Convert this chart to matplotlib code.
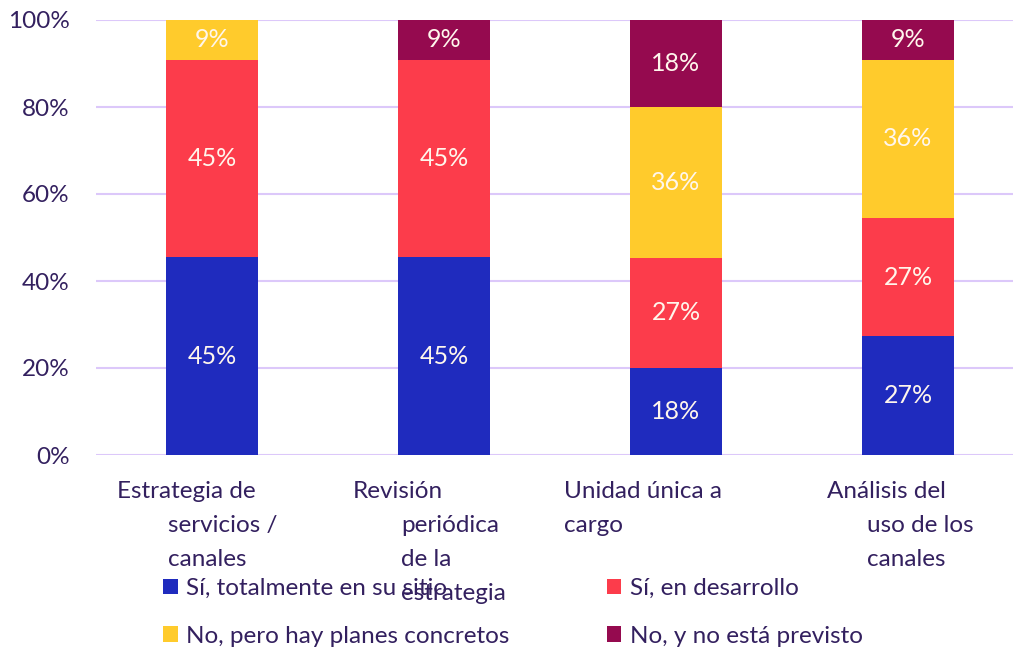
import numpy as np
import matplotlib
matplotlib.use("Agg")
import matplotlib.pyplot as plt
import matplotlib.transforms as mtransforms
from matplotlib.patches import Patch

# data (percent of respondents, heights as drawn)
categories = [["Estrategia de", "servicios /", "canales"],
              ["Revisión", "periódica", "de la", "estrategia"],
              ["Unidad única a", "cargo"],
              ["Análisis del", "uso de los", "canales"]]
series_names = ["Sí, totalmente en su sitio", "Sí, en desarrollo",
                "No, pero hay planes concretos", "No, y no está previsto"]
si_total = [45.45, 45.45, 20.0, 27.27]
si_desarrollo = [45.45, 45.45, 25.3, 27.27]
no_planes = [9.09, 0.0, 34.7, 36.36]
no_previsto = [0.0, 9.09, 20.0, 9.09]
lbl_si_total = ["45%", "45%", "18%", "27%"]
lbl_si_desarrollo = ["45%", "45%", "27%", "27%"]
lbl_no_planes = ["9%", "", "36%", "36%"]
lbl_no_previsto = ["", "9%", "18%", "9%"]

colors = ["#1F2BBE", "#FC3C4B", "#FFCB2C", "#950A4F"]
txt_col = "#33205F"
grid_col = "#DCC8FA"
font = "Lato"
fs = 17.5

W, H = 1013, 647
fig = plt.figure(figsize=(W / 100, H / 100), dpi=100)
ax = fig.add_axes([96 / W, (H - 455) / H, (W - 96) / W, 435 / H])

x = np.arange(len(categories))
values = [si_total, si_desarrollo, no_planes, no_previsto]
labels = [lbl_si_total, lbl_si_desarrollo, lbl_no_planes, lbl_no_previsto]
bottom = np.zeros(len(categories))
for vals, labs, col in zip(values, labels, colors):
    vals = np.array(vals)
    bars = ax.bar(x, vals, 0.4, bottom=bottom, color=col, zorder=3)
    ax.bar_label(bars, labels=labs, label_type="center", color="#FFF6EC",
                 fontsize=18, family=font, zorder=4)
    bottom = bottom + vals

ax.set_xlim(-0.5, -0.5 + (W - 96) / 232)
ax.set_ylim(0, 100)
ax.set_yticks(np.arange(0, 101, 20))
ax.set_yticklabels([f"{v}%" for v in range(0, 101, 20)], family=font,
                   fontsize=fs, color=txt_col)
ax.tick_params(axis="y", length=0, pad=19)
ax.set_xticks([])
ax.grid(axis="y", color=grid_col, lw=1.5, zorder=0)
for s in ax.spines.values():
    s.set_visible(False)

# category labels, first line hanging out to the left like the original
first_off = [-0.41, -0.392, -0.483, -0.35]
rest_off = [-0.19, -0.185, -0.483, -0.177]
trans = mtransforms.blended_transform_factory(ax.transData, fig.transFigure)
for i, lines in enumerate(categories):
    for j, line in enumerate(lines):
        xx = x[i] + (first_off[i] if j == 0 else rest_off[i])
        yy = 1 - (498 + 34 * j) / H
        ax.text(xx, yy, line, transform=trans, ha="left", va="baseline",
                fontsize=fs, family=font, color=txt_col, zorder=1)

# legend is row-major in the original, matplotlib fills by column
order = [0, 2, 1, 3]
handles = [Patch(facecolor=colors[k], edgecolor="none") for k in order]
leg = fig.legend(handles, [series_names[k] for k in order], ncol=2,
                 loc="upper left", bbox_to_anchor=(163 / W, 1 - 578 / H),
                 frameon=False, prop={"family": font, "size": fs},
                 borderpad=0, borderaxespad=0,
                 handlelength=0.6, handleheight=0.6, handletextpad=0.35,
                 columnspacing=4.0, labelspacing=1.1)
for t in leg.get_texts():
    t.set_color(txt_col)

fig.savefig("out.png", dpi=100)
